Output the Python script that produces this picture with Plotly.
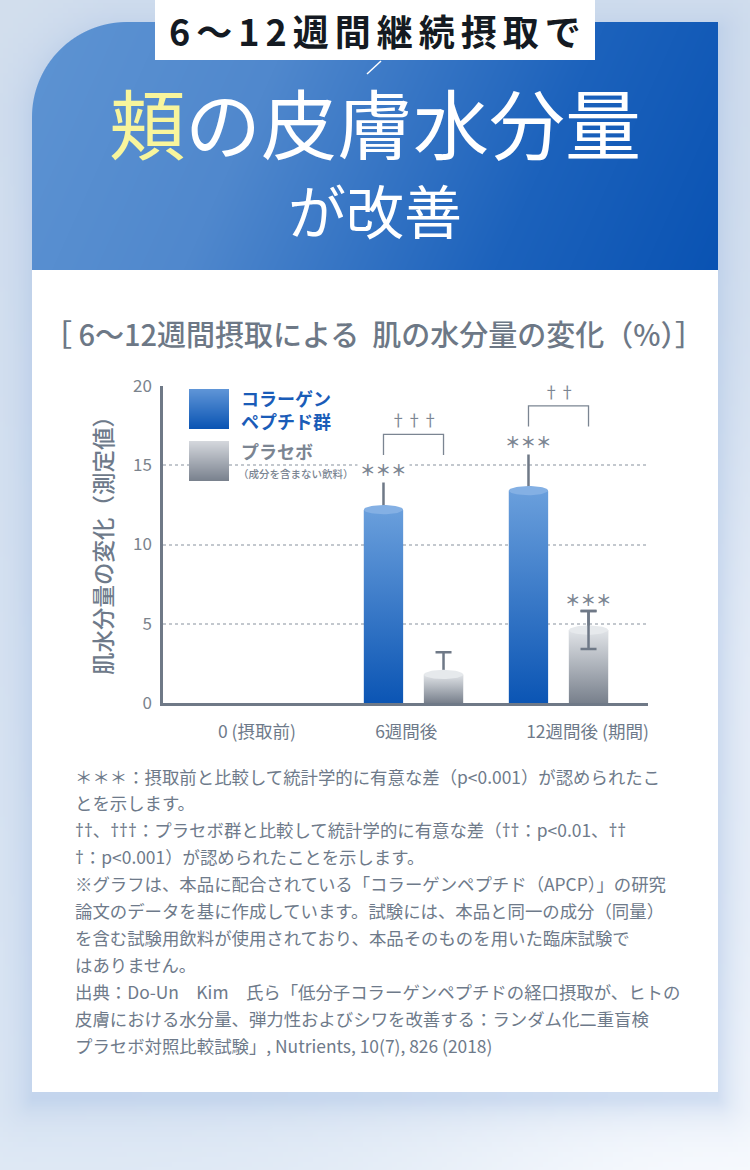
import math
import re
import zlib
import struct
import base64
import plotly.graph_objects as go

# ---------------- data ----------------
categories = ["0 (摂取前)", "6週間後", "12週間後 (期間)"]
collagen = [0, 12.2, 13.4]
collagen_err = [0, 1.85, 2.45]
placebo = [0, 1.8, 4.6]
placebo_err = [0, 1.4, 1.2]
collagen_sig = ["", "＊＊＊", "＊＊＊"]
placebo_sig = ["", "", "＊＊＊"]
group_sig = ["", "†††", "††"]
y_ticks = [0, 5, 10, 15, 20]

footnotes = [
    "＊＊＊：摂取前と比較して統計学的に有意な差（p<0.001）が認められたこ",
    "とを示します。",
    "††、†††：プラセボ群と比較して統計学的に有意な差（††：p<0.01、††",
    "†：p<0.001）が認められたことを示します。",
    "※グラフは、本品に配合されている「コラーゲンペプチド（APCP）」の研究",
    "論文のデータを基に作成しています。試験には、本品と同一の成分（同量）",
    "を含む試験用飲料が使用されており、本品そのものを用いた臨床試験で",
    "はありません。",
    "出典：Do-Un　Kim　氏ら「低分子コラーゲンペプチドの経口摂取が、ヒトの",
    "皮膚における水分量、弾力性およびシワを改善する：ランダム化二重盲検",
    "プラセボ対照比較試験」, Nutrients, 10(7), 826 (2018)",
]

# ---------------- style ----------------
W, H = 750, 1170
FONT = "Noto Sans CJK JP, Noto Sans, sans-serif"
GREY_TXT = "#6e7a8a"
AXIS_COL = "#6f7987"
PX0, PX1 = 163, 648          # plot area left/right (px)
PY_TOP, PY_BOT = 386, 703    # plot area top/bottom (px)
BAR_W = 0.27
OFF = 0.207
BLUE_TOP, BLUE_BOT, BLUE_CAP = "#6a9fdc", "#0b55b4", "#84b0e4"
GREY_TOP, GREY_BOT, GREY_CAP = "#e0e3e7", "#78808c", "#e6e9ec"


def xp(px):
    return px / W


def yp(py):
    return 1 - py / H


def hex2rgb(h):
    h = h.lstrip("#")
    return [int(h[i:i + 2], 16) for i in (0, 2, 4)]


def lerp(a, b, t):
    return [a[k] + (b[k] - a[k]) * t for k in range(3)]


def stops_color(stops, t):
    t = max(0.0, min(1.0, t))
    for k in range(len(stops) - 1):
        t0, c0 = stops[k]
        t1, c1 = stops[k + 1]
        if t <= t1:
            return lerp(hex2rgb(c0), hex2rgb(c1), (t - t0) / (t1 - t0) if t1 > t0 else 0)
    return hex2rgb(stops[-1][1])


def png_uri(w, h, fn):
    raw = bytearray()
    for j in range(h):
        raw.append(0)
        for i in range(w):
            r, g, b, a = fn(i, j)
            raw.extend((int(max(0, min(255, r))), int(max(0, min(255, g))),
                        int(max(0, min(255, b))), int(max(0, min(255, a)))))

    def chunk(tag, data):
        return (struct.pack(">I", len(data)) + tag + data
                + struct.pack(">I", zlib.crc32(tag + data) & 0xFFFFFFFF))

    ihdr = struct.pack(">IIBBBBB", w, h, 8, 6, 0, 0, 0)
    png = (b"\x89PNG\r\n\x1a\n" + chunk(b"IHDR", ihdr)
           + chunk(b"IDAT", zlib.compress(bytes(raw), 9)) + chunk(b"IEND", b""))
    return "data:image/png;base64," + base64.b64encode(png).decode()


# panel geometry (header + card), px
CX0, CX1, CY0, CY1, CR = 32, 718, 22, 1092, 95


def panel_dist(x, y):
    if x < CX0 + CR and y < CY0 + CR:
        return math.hypot(x - (CX0 + CR), y - (CY0 + CR)) - CR
    dx = max(CX0 - x, 0, x - CX1)
    dy = max(CY0 - y, 0, y - CY1)
    return math.hypot(dx, dy)


S = 5


def bg_pixel(i, j):
    x, y = i * S + S / 2, j * S + S / 2
    base = lerp(hex2rgb("#d3dfee"), hex2rgb("#dfe9f5"), y / H)
    glow = math.exp(-((x - 730) ** 2 + (y - 1160) ** 2) / (2 * 230 ** 2))
    base = lerp(base, [250, 252, 255], 0.9 * glow)
    glow2 = math.exp(-((x - 740) ** 2 + (y - 700) ** 2) / (2 * 200 ** 2))
    base = lerp(base, [244, 247, 253], 0.6 * glow2)
    d = panel_dist(x, y - 8)
    sh = 0.5 * math.exp(-max(d, 0) / 20.0)
    col = lerp(base, hex2rgb("#abc3e6"), sh)
    return col[0], col[1], col[2], 255


bg_uri = png_uri(W // S, H // S, bg_pixel)

HW, HH = CX1 - CX0, 270 - CY0
header_stops = [(0, "#5e94d3"), (0.33, "#5088cd"), (0.72, "#1c62bc"), (1, "#0a53b3")]


def header_pixel(i, j):
    x, y = i + 0.5, j + 0.5
    t = (x + 0.45 * y) / (HW + 0.45 * HH)
    c = stops_color(header_stops, t)
    a = 255
    if x < CR and y < CR:
        d = math.hypot(x - CR, y - CR) - CR
        a = 255 * max(0.0, min(1.0, 0.5 - d))
    return c[0], c[1], c[2], a


header_uri = png_uri(HW, HH, header_pixel)


def vgrad_uri(top, bot, n=40):
    def f(i, j):
        c = lerp(hex2rgb(top), hex2rgb(bot), j / (n - 1))
        return c[0], c[1], c[2], 255
    return png_uri(4, n, f)


sw_blue = vgrad_uri("#5f95d7", "#0b55b4")
sw_grey = vgrad_uri("#d4d7dc", "#7a828e")

# ---------------- figure ----------------
fig = go.Figure()
xs = list(range(len(categories)))


def add_bar(vals, errs, off, color, name, cap_w):
    idx = [i for i in xs if vals[i] > 0]
    fig.add_trace(go.Bar(
        x=idx, y=[vals[i] for i in idx], width=BAR_W, offset=off - BAR_W / 2,
        marker=dict(color=color, line=dict(width=0)), name=name,
        error_y=dict(type="data", array=[errs[i] for i in idx], arrayminus=[0] * len(idx),
                     color=AXIS_COL, thickness=2.5, width=cap_w),
        showlegend=False, hoverinfo="skip"))


# library bars; their error bars sit behind the gradient bodies
add_bar(collagen, collagen_err, -OFF, BLUE_BOT, "コラーゲンペプチド群", 9)
add_bar(placebo, placebo_err, OFF, GREY_BOT, "プラセボ", 8)


def add_body(cx, v, top, bot, cap):
    if v <= 0:
        return
    L, R = cx - BAR_W / 2, cx + BAR_W / 2
    fig.add_trace(go.Scatter(
        x=[L, R, R, L, L], y=[0, 0, v, v, 0], mode="lines", fill="toself",
        line=dict(width=0, color=bot),
        fillgradient=dict(type="vertical", colorscale=[[0, bot], [1, top]]),
        showlegend=False, hoverinfo="skip"))
    n = 48
    ex = [cx + BAR_W / 2 * math.cos(2 * math.pi * k / n) for k in range(n + 1)]
    ey = [v + 0.29 * math.sin(2 * math.pi * k / n) for k in range(n + 1)]
    fig.add_trace(go.Scatter(
        x=ex, y=ey, mode="lines", fill="toself", fillcolor=cap,
        line=dict(width=0, color=cap), showlegend=False, hoverinfo="skip"))


for i in xs:
    add_body(i - OFF, collagen[i], BLUE_TOP, BLUE_BOT, BLUE_CAP)
    add_body(i + OFF, placebo[i], GREY_TOP, GREY_BOT, GREY_CAP)

# full error bar drawn in front for the 12-week placebo bar
front = [i for i in xs if placebo_sig[i]]
fig.add_trace(go.Scatter(
    x=[i + OFF for i in front], y=[placebo[i] for i in front], mode="markers",
    marker=dict(size=1, opacity=0),
    error_y=dict(type="data", array=[placebo_err[i] for i in front],
                 color=AXIS_COL, thickness=2.5, width=8),
    showlegend=False, hoverinfo="skip"))

annotations = []
shapes = []


def ann(**kw):
    kw.setdefault("showarrow", False)
    kw.setdefault("xanchor", "center")
    kw.setdefault("yanchor", "middle")
    annotations.append(kw)


# significance marks
STAR_FONT = dict(size=15.5, color="#7b8592", family=FONT, weight=700)
for i in xs:
    if collagen_sig[i]:
        ann(x=i - OFF, y=collagen[i] + collagen_err[i], xref="x", yref="y",
            text=collagen_sig[i], yshift=11, font=STAR_FONT, bgcolor="white", borderpad=2)
    if placebo_sig[i]:
        ann(x=i + OFF, y=placebo[i] + placebo_err[i], xref="x", yref="y",
            text=placebo_sig[i], yshift=12, font=STAR_FONT)
    if group_sig[i]:
        legs = max(collagen[i] + collagen_err[i], placebo[i] + placebo_err[i]) + 1.6
        top = legs + 1.3
        fig.add_trace(go.Scatter(
            x=[i - OFF, i - OFF, i + OFF, i + OFF], y=[legs, top, top, legs],
            mode="lines", line=dict(color="#7b8592", width=1.3),
            showlegend=False, hoverinfo="skip"))
        ann(x=i, y=top + 0.96, xref="x", yref="y",
            text="\u00a0\u00a0" + group_sig[i] + "\u00a0\u00a0",
            font=dict(size=16, color="#7b8592", family=FONT), bgcolor="white", borderpad=0)

# ---------------- decorations ----------------
images = [
    dict(source=bg_uri, xref="paper", yref="paper", x=0, y=1, sizex=1, sizey=1,
         xanchor="left", yanchor="top", sizing="stretch", layer="below"),
    dict(source=header_uri, xref="paper", yref="paper", x=xp(CX0), y=yp(CY0),
         sizex=HW / W, sizey=HH / H, xanchor="left", yanchor="top",
         sizing="stretch", layer="below"),
    dict(source=sw_blue, xref="paper", yref="paper", x=xp(189), y=yp(389),
         sizex=40 / W, sizey=40 / H, xanchor="left", yanchor="top",
         sizing="stretch", layer="above"),
    dict(source=sw_grey, xref="paper", yref="paper", x=xp(189), y=yp(441),
         sizex=40 / W, sizey=40 / H, xanchor="left", yanchor="top",
         sizing="stretch", layer="above"),
]

shapes += [
    dict(type="rect", xref="paper", yref="paper", x0=xp(CX0), x1=xp(CX1),
         y0=yp(1092), y1=yp(270), fillcolor="white", line=dict(width=0), layer="below"),
    dict(type="rect", xref="paper", yref="paper", x0=xp(155), x1=xp(595),
         y0=yp(60), y1=yp(0), fillcolor="white", line=dict(width=0), layer="below"),
    dict(type="line", xref="paper", yref="paper", x0=xp(381), y0=yp(61),
         x1=xp(367), y1=yp(74), line=dict(color="white", width=1.5), layer="below"),
    # white backing for the legend (interrupts dotted grid lines)
    dict(type="rect", xref="paper", yref="paper", x0=xp(181), x1=xp(359),
         y0=yp(484), y1=yp(383), fillcolor="white", line=dict(width=0), layer="between"),
]

TS = "\u2006"
ann(x=0.5, y=yp(30), xref="paper", yref="paper", text=TS.join("6～12週間継続摂取で"),
    font=dict(size=36, color="#141a22", family=FONT, weight=700))
ann(x=0.5, y=yp(121), xref="paper", yref="paper",
    text='<span style="color:#f8f59c">頬</span>の皮膚水分量',
    font=dict(size=76, color="white", family=FONT, weight=400))
ann(x=0.5, y=yp(209), xref="paper", yref="paper", text="が改善",
    font=dict(size=58, color="white", family=FONT, weight=400))
ann(x=xp(373), y=yp(333), xref="paper", yref="paper",
    text="［ 6～12週間摂取による  肌の水分量の変化（%）］",
    font=dict(size=29, color="#6d7886", family=FONT, weight=500))
ann(x=xp(102), y=yp(540), xref="paper", yref="paper", text="肌水分量の変化（測定値）",
    textangle=-90, font=dict(size=22.5, color=GREY_TXT, family=FONT, weight=500))
LEG_X = xp(239)
ann(x=LEG_X, y=yp(409.5), xref="paper", yref="paper", text="コラーゲン<br>ペプチド群",
    xanchor="left", align="left",
    font=dict(size=18, color="#1a5cb8", family=FONT, weight=700))
ann(x=LEG_X, y=yp(451), xref="paper", yref="paper", text="プラセボ", xanchor="left",
    font=dict(size=18, color="#7b8592", family=FONT, weight=700))
ann(x=xp(236), y=yp(473), xref="paper", yref="paper", text="（成分を含まない飲料）",
    xanchor="left", font=dict(size=10.5, color="#7b8592", family=FONT, weight=500))

for k, line in enumerate(footnotes):
    line = re.sub(r"(†+)", r'<span style="font-family:Noto Sans">\1</span>', line)
    ann(x=xp(73), y=yp(776 + 26.9 * k), xref="paper", yref="paper", text=line,
        xanchor="left", font=dict(size=17.4, color=GREY_TXT, family=FONT))

label_shift = [-0.08, -0.05, 0.2]
x_range = [(PX0 - 268.5) / 145.0, (PX1 - 268.5) / 145.0]

fig.update_layout(
    width=W, height=H, margin=dict(l=0, r=0, t=0, b=0, pad=0, autoexpand=False),
    paper_bgcolor="#dce6f2", plot_bgcolor="rgba(0,0,0,0)",
    barmode="overlay", showlegend=False,
    font=dict(family=FONT, color=GREY_TXT),
    xaxis=dict(domain=[PX0 / W, PX1 / W], range=x_range, showgrid=False, zeroline=False,
               showline=True, linecolor=AXIS_COL, linewidth=2.5, automargin=False,
               tickvals=[i + s for i, s in zip(xs, label_shift)], ticktext=categories,
               ticks="", ticklabelstandoff=11,
               tickfont=dict(size=17.5, color=GREY_TXT, family=FONT), fixedrange=True),
    yaxis=dict(domain=[1 - PY_BOT / H, 1 - PY_TOP / H], range=[0, 20], tickvals=y_ticks,
               showgrid=True, gridcolor="#c3c8ce", griddash="dot", gridwidth=1.5,
               zeroline=False, showline=True, linecolor=AXIS_COL, linewidth=2.5,
               ticks="", ticklabelstandoff=5, automargin=False,
               tickfont=dict(size=17, color="#7b838d", family=FONT), fixedrange=True),
    images=images, shapes=shapes, annotations=annotations,
)

fig.write_html("out.html")
